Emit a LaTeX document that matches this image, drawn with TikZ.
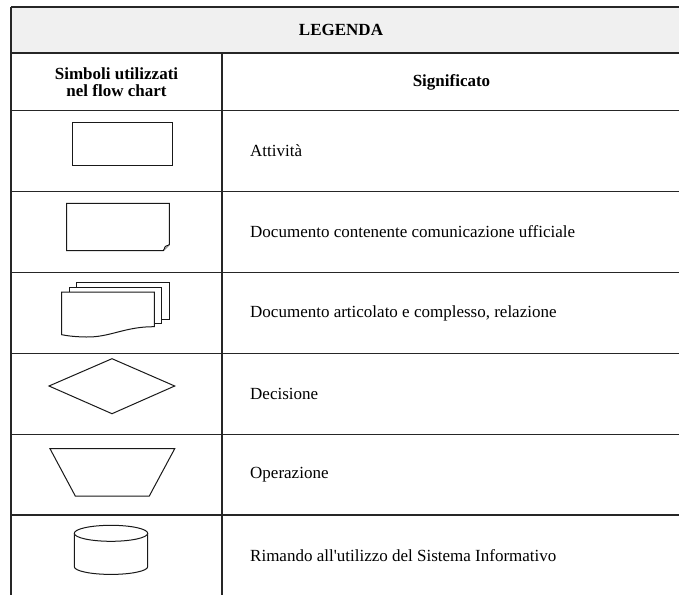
\documentclass[tikz,border=0pt]{standalone}
\usepackage{fontspec}
\setmainfont{Liberation Serif}
\begin{document}
\begin{tikzpicture}[x=1pt,y=-1pt,
  grid/.style={line width=1.2pt,draw=black!85},
  sym/.style={line width=1pt,draw=black!90,fill=white},
  desc/.style={anchor=west,inner sep=0pt,font=\fontsize{17}{20}\selectfont},
  headtxt/.style={inner sep=0pt,align=center,font=\fontsize{17}{17}\selectfont\bfseries}]
\useasboundingbox (0,0) rectangle (679,594);
\clip (0,0) rectangle (679,594);
% header background
\fill[fill=black!6] (11,7) rectangle (681,53);
% table grid
\draw[grid] (11,7) -- (681,7);
\draw[grid] (11,53) -- (681,53);
\foreach \yy in {110.7,191.5,272.3,353.3,434.2,515.0}
  \draw[grid] (11,\yy) -- (681,\yy);
\draw[grid] (11,7) -- (11,600);
\draw[grid] (222,53) -- (222,600);
\draw[grid] (681,7) -- (681,600);
% headers
\node[headtxt] (legenda) at (341,30) {LEGENDA};
\node[headtxt] (simboli) at (116.5,82) {Simboli utilizzati\\nel flow chart};
\node[headtxt] (signif) at (451.5,82) {Significato};
% symbols
\draw[sym] (72,122) rectangle (172,165.7);
\draw[sym] (66.7,203.3) -- (169.3,203.3) -- (169.3,244.7) -- (163.3,250.7) -- (66.7,250.7) -- cycle;
\draw[line width=0.8pt,fill=black!25] (163.3,250.7) -- (165.3,246.4) -- (169.3,244.7);
\draw[sym] (76.7,282.7) rectangle (169.3,319);
\draw[sym] (69.3,287.3) rectangle (161.7,323.3);
\draw[sym] (61.7,292) -- (154.3,292) -- (154.3,326.7)
  .. controls (125,326.5) and (110,337.5) .. (86,337)
  .. controls (73,336.8) and (66,335.5) .. (61.7,334.7) -- cycle;
\draw[sym] (49,386) -- (112,358.7) -- (174.7,386) -- (112,413.7) -- cycle;
\draw[sym] (50,448.7) -- (174.7,448.7) -- (149.3,496) -- (75.3,496) -- cycle;
\draw[sym] (74.3,533.3) -- (74.3,566.7) arc[start angle=180,end angle=360,x radius=36.7pt,y radius=7.7pt] -- (147.7,533.3);
\draw[sym] (111,533.3) ellipse[x radius=36.7pt,y radius=8pt];
% descriptions
\node[desc] (d1) at (250,151) {Attività};
\node[desc] (d2) at (250,232) {Documento contenente comunicazione ufficiale};
\node[desc] (d3) at (250,313) {Documento articolato e complesso, relazione};
\node[desc] (d4) at (250,394) {Decisione};
\node[desc] (d5) at (250,475) {Operazione};
\node[desc] (d6) at (250,556) {Rimando all\textquotesingle utilizzo del Sistema Informativo};
\end{tikzpicture}
\end{document}
